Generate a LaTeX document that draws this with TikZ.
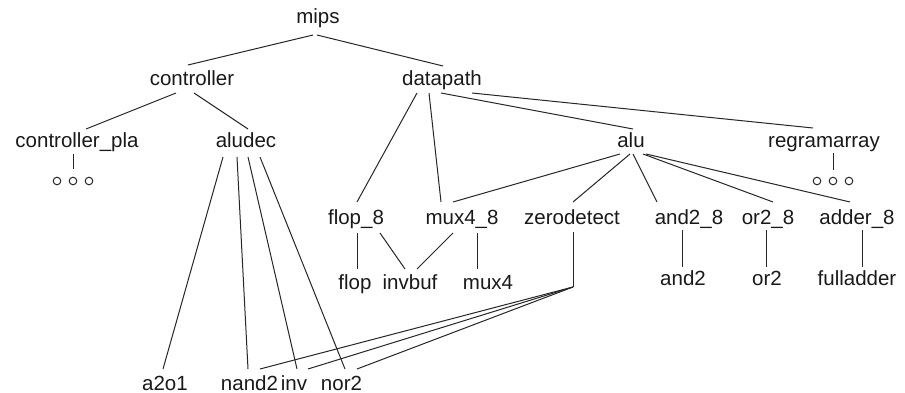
\documentclass[tikz,border=0pt]{standalone}
\usepackage{fontspec}
\setmainfont{Liberation Sans}
\usetikzlibrary{calc}
\begin{document}
\begin{tikzpicture}[x=1pt,y=-1pt,
  lbl/.style={anchor=base,inner sep=0pt,text=black!90,font=\fontsize{20.5}{24}\selectfont},
  ln/.style={line width=1pt,draw=black!85},
  dotc/.style={circle,draw=black!85,line width=1pt,minimum size=7.6pt,inner sep=0pt}]
\useasboundingbox (0,0) rectangle (905,393);
% nodes
\node[lbl] (mips) at (318,24) {mips};
\node[lbl] (controller) at (192,86) {controller};
\node[lbl] (datapath) at (442,86) {datapath};
\node[lbl] (cpla) at (77,148) {controller\_pla};
\node[lbl] (aludec) at (246,148) {aludec};
\node[lbl] (alu) at (631,148) {alu};
\node[lbl] (regram) at (824,148) {regramarray};
\node[lbl] (flop8) at (356,224) {flop\_8};
\node[lbl] (mux48) at (462,224) {mux4\_8};
\node[lbl] (zerod) at (572,224) {zerodetect};
\node[lbl] (and28) at (689,224) {and2\_8};
\node[lbl] (or28) at (768,224) {or2\_8};
\node[lbl] (adder8) at (857,224) {adder\_8};
\node[lbl] (flop) at (355,289) {flop};
\node[lbl] (invbuf) at (410,289) {invbuf};
\node[lbl] (mux4) at (488,289) {mux4};
\node[lbl] (and2) at (683,285) {and2};
\node[lbl] (or2) at (767,285) {or2};
\node[lbl] (fulladder) at (857,285) {fulladder};
\node[lbl] (a2o1) at (165,390) {a2o1};
\node[lbl] (nand2) at (249.5,390) {nand2};
\node[lbl] (inv) at (294,390) {inv};
\node[lbl] (nor2) at (341.5,390) {nor2};
% dots
\node[dotc] (pa) at (57,181) {};
\node[dotc] (pb) at (73,181) {};
\node[dotc] (pc) at (89,181) {};
\node[dotc] (ra) at (817,181) {};
\node[dotc] (rb) at (833,181) {};
\node[dotc] (rc) at (849,181) {};
\coordinate (zf) at (573,287);
% edges
\newcommand\lk[4]{\draw[ln] ($(#1.base)+(#2)$) -- ($(#3.base)+(#4)$);}
\lk{mips}{-5,11}{controller}{-4,-21}
\lk{mips}{-1,11}{datapath}{1,-20}
\lk{controller}{-16,7}{cpla}{9,-19}
\lk{controller}{2,7}{aludec}{2,-19}
\lk{datapath}{-25,7}{flop8}{1,-22}
\lk{datapath}{-13,7}{mux48}{-21,-22}
\lk{datapath}{-1,7}{alu}{2,-19}
\lk{datapath}{30,7}{regram}{-11,-20}
\lk{alu}{-11,6}{mux48}{-9,-22}
\lk{alu}{-1,6}{zerod}{1,-22}
\lk{alu}{2,6}{and28}{-32,-22}
\lk{alu}{12,6}{or28}{5,-22}
\lk{alu}{15,6}{adder8}{-7,-22}
\lk{flop8}{1,9}{flop}{2,-20}
\lk{flop8}{24,9}{invbuf}{-5,-20}
\lk{mux48}{-9,9}{invbuf}{7,-20}
\lk{mux48}{15,9}{mux4}{-11,-20}
\lk{and28}{-7,6}{and2}{-1,-18}
\lk{or28}{-2,6}{or2}{-1,-18}
\lk{adder8}{5,6}{fulladder}{5,-18}
\lk{aludec}{-23,9}{a2o1}{-2,-21}
\lk{aludec}{-9,9}{nand2}{-1.5,-21}
\lk{aludec}{2,9}{inv}{3,-21}
\lk{aludec}{14,9}{nor2}{3.5,-21}
\draw[ln] ($(zerod.base)+(1,8)$) -- (zf);
\draw[ln] (zf) -- ($(nand2.base)+(10.5,-21)$);
\draw[ln] (zf) -- ($(inv.base)+(14,-21)$);
\draw[ln] (zf) -- ($(nor2.base)+(15.5,-21)$);
\draw[ln] ($(cpla.base)+(-4,6)$) -- ($(pb.north)+(0,-8)$);
\draw[ln] ($(regram.base)+(9,5)$) -- ($(rb.north)+(0,-7)$);
\end{tikzpicture}
\end{document}
